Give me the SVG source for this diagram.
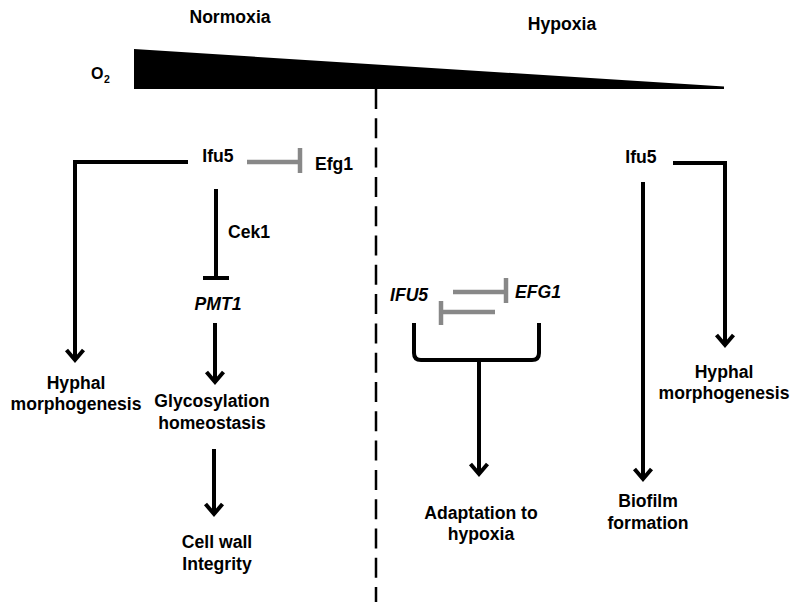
<svg xmlns="http://www.w3.org/2000/svg" width="800" height="612" viewBox="0 0 800 612">
<style>
text{font-family:"Liberation Sans",Arial,sans-serif;font-weight:bold;font-size:17.6px;fill:#000}
.m{text-anchor:middle}
.i{font-style:italic}
.blk{fill:none;stroke:#000;stroke-width:4;stroke-linejoin:miter}
.gry{fill:none;stroke:#888;stroke-width:4.5}
.arr{marker-end:url(#arr)}
</style>
<defs>
<marker id="arr" markerUnits="userSpaceOnUse" viewBox="-15 -15 30 30" markerWidth="30" markerHeight="30" refX="0" refY="0" orient="auto" overflow="visible">
<path d="M-10,-8.5 L0,0 L-10,8.5" fill="none" stroke="#000" stroke-width="4"/>
</marker>
</defs>
<rect width="800" height="612" fill="#fff"/>
<g id="header">
<text class="m" x="230" y="23">Normoxia</text>
<text class="m" x="562" y="30">Hypoxia</text>
<text x="91" y="79" style="font-size:16px">O<tspan x="104" y="83" style="font-size:10.5px">2</tspan></text>
<polygon points="134,49 724,86.5 724,89 134,89" fill="#000"/>
</g>
<line id="divider" x1="376" y1="89" x2="376" y2="602" stroke="#000" stroke-width="2.5" stroke-dasharray="20 9.3"/>
<g id="n-ifu5-left"><text class="m" x="218" y="162">Ifu5</text></g>
<g id="n-efg1"><text x="315" y="170">Efg1</text></g>
<g id="n-cek1"><text x="228" y="238">Cek1</text></g>
<g id="n-pmt1"><text class="m i" x="218" y="310">PMT1</text></g>
<g id="n-hyphal-left"><text class="m" x="76" y="389">Hyphal</text><text class="m" x="76" y="410">morphogenesis</text></g>
<g id="n-glyco"><text class="m" x="212" y="407">Glycosylation</text><text class="m" x="212" y="429">homeostasis</text></g>
<g id="n-cellwall"><text class="m" x="217" y="548">Cell wall</text><text class="m" x="217" y="570">Integrity</text></g>
<g id="n-IFU5"><text class="i" x="390" y="301">IFU5</text></g>
<g id="n-EFG1"><text class="i" x="515" y="298">EFG1</text></g>
<g id="n-adaptation"><text class="m" x="481" y="519">Adaptation to</text><text class="m" x="481" y="540">hypoxia</text></g>
<g id="n-ifu5-right"><text class="m" x="641" y="163">Ifu5</text></g>
<g id="n-hyphal-right"><text class="m" x="724" y="378">Hyphal</text><text class="m" x="724" y="399">morphogenesis</text></g>
<g id="n-biofilm"><text class="m" x="648" y="507">Biofilm</text><text class="m" x="648" y="529">formation</text></g>
<g id="connectors">
<path class="blk arr" d="M188,162 H75 V360"/>
<line class="gry" x1="247" y1="162" x2="300" y2="162"/>
<line class="gry" x1="300" y1="148" x2="300" y2="173"/>
<line class="blk" x1="216" y1="189" x2="216" y2="278"/>
<line class="blk" x1="203" y1="278" x2="229" y2="278"/>
<line class="blk arr" x1="215" y1="323" x2="215" y2="382"/>
<line class="blk arr" x1="214" y1="449" x2="214" y2="514"/>
<line class="gry" x1="453" y1="292" x2="506" y2="292"/>
<line class="gry" x1="506" y1="278" x2="506" y2="303"/>
<line class="gry" x1="495" y1="312" x2="441" y2="312"/>
<line class="gry" x1="441" y1="301" x2="441" y2="325"/>
<path class="blk" d="M414,323 V353 Q414,360 421,360 H532 Q539,360 539,353 V323"/>
<line class="blk arr" x1="479" y1="360" x2="479" y2="474"/>
<path class="blk arr" d="M673,163 H725 V345"/>
<line class="blk arr" x1="643" y1="182" x2="643" y2="479"/>
</g>
</svg>
